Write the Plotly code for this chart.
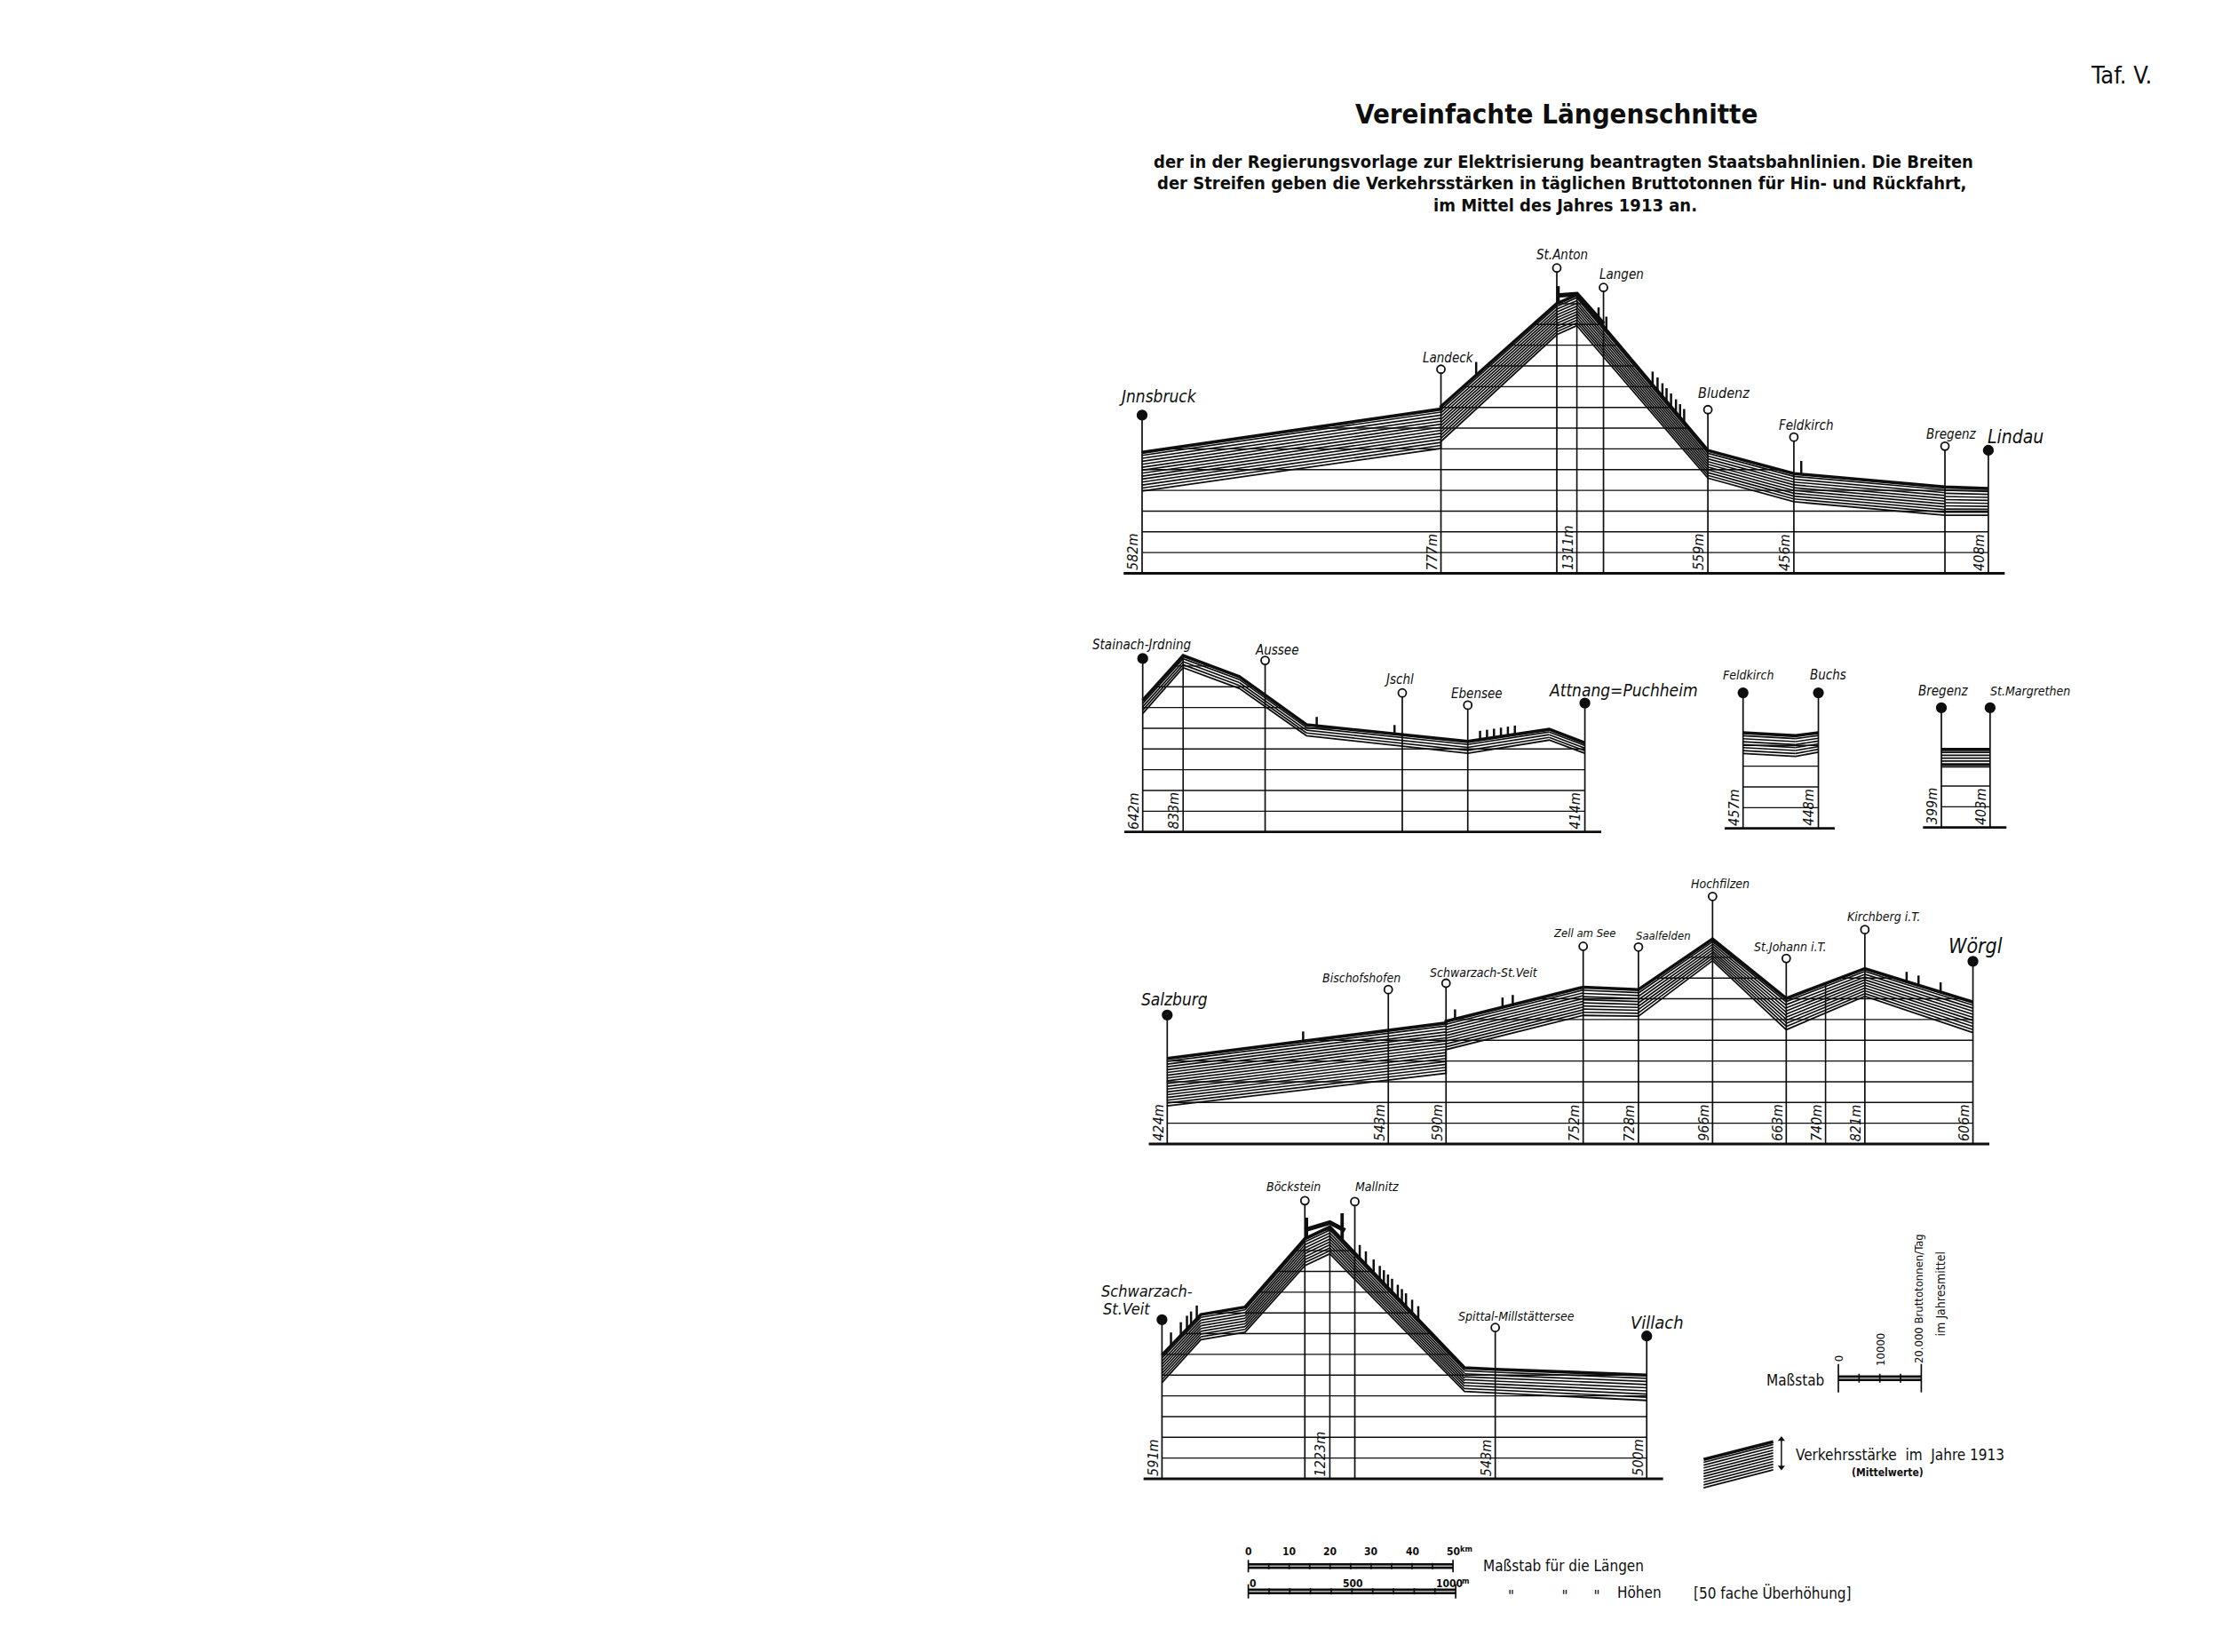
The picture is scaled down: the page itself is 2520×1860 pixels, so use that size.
import plotly.graph_objects as go

W, H = 2520, 1860
SX = 4.61      # page px per km (length scale of the drawing)
SY = 0.2335    # page px per m of height (50-fold exaggeration)
T2M = 0.02     # metres of band height per gross tonne per day

# ============================ DATA ============================
# 1) Innsbruck - Lindau (Arlbergbahn)
P1_KM = [0.0, 73.0, 73.0, 101.3, 106.2, 138.2, 159.2, 196.1, 206.7]
P1_BOTTOM = [547, 752, 786, 1301, 1344, 609, 495, 430, 430]
P1_TRAFFIC = [9300, 9500, 8400, 7500, 7400, 6650, 6800, 6800, 6450]
P1_ST_NAME = ["Jnnsbruck", "Landeck", "St.Anton", "Langen", "Bludenz", "Feldkirch", "Bregenz", "Lindau"]
P1_ST_KM = [0.0, 73.0, 101.3, 112.7, 138.2, 159.2, 196.1, 206.7]
P1_ST_END = [1, 0, 0, 0, 0, 0, 0, 1]
P1_EL_KM = [0.0, 73.0, 106.2, 138.2, 159.2, 206.7]
P1_EL_LAB = ["582m", "777m", "1311m", "559m", "456m", "408m"]
P1_MARKS = [81.6, 111.5, 113.4, 124.7, 125.9, 127.1, 128.1, 129.2, 130.4, 131.4, 132.4, 161.0]
P1_PORTALS = [101.6]
P1_TUNNEL = [101.3, 106.2, 112.7]

# 2) Stainach-Irdning - Attnang-Puchheim
P2_KM = [0.0, 9.87, 23.6, 40.0, 79.4, 99.3, 108.0]
P2_BOTTOM = [621, 842, 742, 514, 429, 493, 429]
P2_TRAFFIC = [3200, 2900, 2850, 2650, 2850, 2600, 2500]
P2_ST_NAME = ["Stainach-Jrdning", "Aussee", "Jschl", "Ebensee", "Attnang=Puchheim"]
P2_ST_KM = [0.0, 29.9, 63.4, 79.4, 108.0]
P2_ST_END = [1, 0, 0, 0, 1]
P2_EL_KM = [0.0, 9.87, 108.0]
P2_EL_LAB = ["642m", "833m", "414m"]
P2_MARKS = [42.5, 61.5, 82.4, 84.1, 85.8, 87.5, 89.2, 90.9]

# 3) Feldkirch - Buchs
P3_KM = [0.0, 12.8, 18.4]
P3_BOTTOM = [461, 447, 468]
P3_TRAFFIC = [5000, 5000, 4650]
P3_ST_NAME = ["Feldkirch", "Buchs"]
P3_ST_KM = [0.0, 18.4]
P3_ST_END = [1, 1]
P3_EL_KM = [0.0, 18.4]
P3_EL_LAB = ["457m", "448m"]

# 4) Bregenz - St. Margrethen
P4_KM = [0.0, 11.9]
P4_BOTTOM = [393, 393]
P4_TRAFFIC = [4150, 4150]
P4_ST_NAME = ["Bregenz", "St.Margrethen"]
P4_ST_KM = [0.0, 11.9]
P4_ST_END = [1, 1]
P4_EL_KM = [0.0, 11.9]
P4_EL_LAB = ["399m", "403m"]

# 5) Salzburg - Woergl (Giselabahn)
P5_KM = [0.0, 68.1, 68.1, 101.6, 115.1, 133.2, 151.2, 170.4, 196.8]
P5_BOTTOM = [334, 491, 605, 770, 766, 1034, 701, 862, 687]
P5_TRAFFIC = [11400, 12100, 6800, 6800, 6400, 5200, 7550, 6650, 7350]
P5_ST_NAME = ["Salzburg", "Bischofshofen", "Schwarzach-St.Veit", "Zell am See", "Saalfelden",
              "Hochfilzen", "St.Johann i.T.", "Kirchberg i.T.", "Wörgl"]
P5_ST_KM = [0.0, 54.0, 68.1, 101.6, 115.1, 133.2, 151.2, 170.4, 196.8]
P5_ST_END = [1, 0, 0, 0, 0, 0, 0, 0, 1]
P5_EL_KM = [0.0, 54.0, 68.1, 101.6, 115.1, 133.2, 151.2, 160.8, 170.4, 196.8]
P5_EL_LAB = ["424m", "543m", "590m", "752m", "728m", "966m", "663m", "740m", "821m", "606m"]
P5_MARKS = [33.2, 70.3, 81.9, 84.4, 180.6, 183.5, 188.9]

# 6) Schwarzach-St. Veit - Villach (Tauernbahn)
P6_KM = [0.0, 9.5, 20.3, 34.9, 41.0, 73.9, 81.4, 118.4]
P6_BOTTOM = [594, 801, 837, 1158, 1215, 551, 544, 508]
P6_TRAFFIC = [6600, 6050, 6050, 6450, 6450, 5700, 5700, 6100]
P6_ST_NAME = ["Schwarzach-|St.Veit", "Böckstein", "Mallnitz", "Spittal-Millstättersee", "Villach"]
P6_ST_KM = [0.0, 34.9, 47.1, 81.4, 118.4]
P6_ST_END = [1, 0, 0, 0, 1]
P6_EL_KM = [0.0, 41.0, 81.4, 118.4]
P6_EL_LAB = ["591m", "1223m", "543m", "500m"]
P6_MARKS = [2.2, 4.6, 6.1, 7.1, 8.5, 48.3, 49.8, 51.7, 53.2, 54.2, 55.2, 56.2, 57.6, 58.6, 59.6, 61.1, 62.6]
P6_PORTALS = [35.3, 44.0]
P6_TUNNEL = [34.9, 41.0, 44.7]

# Legend sample band and scales
LEG_KM = [132.3, 149.3]
LEG_BOTTOM = [87, 173]
LEG_TRAFFIC = [6800, 6800]
LEN_TICKS = [0, 5, 10, 15, 20, 25, 30, 35, 40, 45, 50]
LEN_LABELS = ["0", "10", "20", "30", "40", "50"]
LEN_LABEL_KM = [0, 10, 20, 30, 40, 50]
HGT_TICKS = [0, 100, 200, 300, 400, 500, 600, 700, 800, 900, 1000]
HGT_LABELS = ["0", "500", "1000"]
HGT_LABEL_M = [25, 507, 971]
TRF_TICKS = [0, 5000, 10000, 15000, 20000]

# ============================ STYLE / LAYOUT ============================
INK = "#0e0e0e"
ITAL = "DejaVu Sans Condensed, DejaVu Sans, sans-serif"
COND = "DejaVu Sans Condensed, DejaVu Sans, sans-serif"
SANS = "DejaVu Sans Condensed, DejaVu Sans, sans-serif"
NBSP = "\u00a0"

# page position of km 0 / base line, and the height of the base line
PANELS = [
    dict(x0=1286.0, base_px=645.5, base_m=150),
    dict(x0=1286.7, base_px=936.7, base_m=50),
    dict(x0=1962.7, base_px=932.7, base_m=100),
    dict(x0=2186.0, base_px=931.7, base_m=100),
    dict(x0=1314.3, base_px=1288.0, base_m=150),
    dict(x0=1308.4, base_px=1665.0, base_m=130),
]
# per station: (label dx px, label dy px, font size), marker height above band top (px)
STY = [
    dict(lab=[(18, -21, 19), (8, -13, 15), (6, -15, 15), (20, -15, 15), (18, -19, 16), (14, -13, 15), (7, -13, 15), (31, -15, 21)],
         off=[42, 42, 40, 44, 46, 41, 46, 43], mark_h=15),
    dict(lab=[(-1, -15, 15), (13, -12, 15), (-4, -15, 15), (10, -13, 15), (43, -15, 19)],
         off=[47, 39, 47, 41, 45], mark_h=10),
    dict(lab=[(6, -20, 14), (11, -20, 15)], off=[45, 45], mark_h=10),
    dict(lab=[(2, -19, 15), (45, -19, 14)], off=[47, 47], mark_h=10),
    dict(lab=[(8, -18, 19), (-30, -13, 14), (43, -12, 14), (2, -15, 13), (28, -13, 13), (9, -14, 14),
              (5, -13, 14), (21, -15, 14), (3, -17, 23)],
         off=[49, 46, 43, 46, 48, 48, 45, 44, 46], mark_h=11),
    dict(lab=[[(-17, -32, 18), (-40, -12, 18)], (-13, -16, 14), (25, -17, 14), (24, -13, 14), (12, -15, 20)],
         off=[40, 43, 58, 47, 44], mark_h=15),
]
TUNNEL_LIFT = {0: [9, 1, 3], 5: [10, 5, 14]}
PORTAL_H = {0: [19], 5: [23, 30]}

PROFILES = [
    dict(km=P1_KM, bot=P1_BOTTOM, trf=P1_TRAFFIC, st=P1_ST_NAME, stk=P1_ST_KM, end=P1_ST_END,
         elk=P1_EL_KM, ell=P1_EL_LAB, marks=P1_MARKS, portals=P1_PORTALS, tunnel=P1_TUNNEL),
    dict(km=P2_KM, bot=P2_BOTTOM, trf=P2_TRAFFIC, st=P2_ST_NAME, stk=P2_ST_KM, end=P2_ST_END,
         elk=P2_EL_KM, ell=P2_EL_LAB, marks=P2_MARKS, portals=[], tunnel=None),
    dict(km=P3_KM, bot=P3_BOTTOM, trf=P3_TRAFFIC, st=P3_ST_NAME, stk=P3_ST_KM, end=P3_ST_END,
         elk=P3_EL_KM, ell=P3_EL_LAB, marks=[], portals=[], tunnel=None),
    dict(km=P4_KM, bot=P4_BOTTOM, trf=P4_TRAFFIC, st=P4_ST_NAME, stk=P4_ST_KM, end=P4_ST_END,
         elk=P4_EL_KM, ell=P4_EL_LAB, marks=[], portals=[], tunnel=None),
    dict(km=P5_KM, bot=P5_BOTTOM, trf=P5_TRAFFIC, st=P5_ST_NAME, stk=P5_ST_KM, end=P5_ST_END,
         elk=P5_EL_KM, ell=P5_EL_LAB, marks=P5_MARKS, portals=[], tunnel=None),
    dict(km=P6_KM, bot=P6_BOTTOM, trf=P6_TRAFFIC, st=P6_ST_NAME, stk=P6_ST_KM, end=P6_ST_END,
         elk=P6_EL_KM, ell=P6_EL_LAB, marks=P6_MARKS, portals=P6_PORTALS, tunnel=P6_TUNNEL),
]

fig = go.Figure()
annotations = []


def axn(i):
    return ("x" if i == 1 else f"x{i}"), ("y" if i == 1 else f"y{i}")


def add_lines(xs, ys, ax, width, dash=None, color=INK):
    fig.add_trace(go.Scatter(x=xs, y=ys, xaxis=ax[0], yaxis=ax[1], mode="lines",
                             line=dict(color=color, width=width, dash=dash),
                             hoverinfo="skip", showlegend=False))


def top_at(km, bot, trf, k):
    best = None
    for i in range(len(km) - 1):
        k0, k1 = km[i], km[i + 1]
        if k1 <= k0:
            continue
        if k0 - 1e-9 <= k <= k1 + 1e-9:
            f = (k - k0) / (k1 - k0)
            t = (bot[i] + trf[i] * T2M) * (1 - f) + (bot[i + 1] + trf[i + 1] * T2M) * f
            best = t if best is None else max(best, t)
    return best


def intervals_above(km, tops, e):
    out = []
    for i in range(len(km) - 1):
        k0, k1 = km[i], km[i + 1]
        if k1 <= k0:
            continue
        y0, y1 = tops[i], tops[i + 1]
        if y0 >= e and y1 >= e:
            out.append([k0, k1])
        elif y0 >= e > y1:
            out.append([k0, k0 + (y0 - e) / (y0 - y1) * (k1 - k0)])
        elif y1 >= e > y0:
            out.append([k0 + (e - y0) / (y1 - y0) * (k1 - k0), k1])
    out.sort()
    merged = []
    for a, b in out:
        if merged and a <= merged[-1][1] + 1e-6:
            merged[-1][1] = max(merged[-1][1], b)
        else:
            merged.append([a, b])
    return merged


def draw_band(km, bot, trf, ax):
    hx, hy = [], []
    for i in range(len(km) - 1):
        if km[i + 1] <= km[i]:
            continue
        t0, t1 = trf[i] * T2M, trf[i + 1] * T2M
        n = max(2, round((t0 + t1) / 2 * SY / 3.3))
        for j in range(1, n):
            f = j / n
            hx += [km[i], km[i + 1], None]
            hy += [bot[i] + f * t0, bot[i + 1] + f * t1, None]
    add_lines(hx, hy, ax, 1.65)
    add_lines(list(km), list(bot), ax, 1.8)
    add_lines(list(km), [b + t * T2M for b, t in zip(bot, trf)], ax, 3.6)


for pi, (P, pos, sty) in enumerate(zip(PROFILES, PANELS, STY)):
    ax = axn(pi + 1)
    km, bot, trf = P["km"], P["bot"], P["trf"]
    base = pos["base_m"]
    tops = [b + t * T2M for b, t in zip(bot, trf)]

    # grid of 100 m height lines, running up to the top of the band
    gx, gy = [], []
    e = base + 100
    while e < max(tops):
        for a, b in intervals_above(km, tops, e):
            gx += [a, b, None]
            gy += [e, e, None]
        e += 100
    add_lines(gx, gy, ax, 1.4)
    # base line
    add_lines([km[0] - 4.5, km[-1] + 4.0], [base, base], ax, 2.8)

    # station poles
    sx_, sy_ = [], []
    mk_y = []
    for k, off in zip(P["stk"], sty["off"]):
        y_m = top_at(km, bot, trf, k) + off / SY
        mk_y.append(y_m)
        sx_ += [k, k, None]
        sy_ += [base, y_m, None]
    add_lines(sx_, sy_, ax, 1.7)
    # height poles without a station
    px_, py_ = [], []
    for k in P["elk"]:
        if k not in P["stk"]:
            px_ += [k, k, None]
            py_ += [base, top_at(km, bot, trf, k), None]
    if px_:
        add_lines(px_, py_, ax, 1.6)

    draw_band(km, bot, trf, ax)

    # tunnel marks
    mx, my = [], []
    for k in P["marks"]:
        t = top_at(km, bot, trf, k)
        mx += [k, k, None]
        my += [t, t + sty["mark_h"] / SY, None]
    if mx:
        add_lines(mx, my, ax, 2.5)
    if P["portals"]:
        qx, qy = [], []
        for k, h in zip(P["portals"], PORTAL_H[pi]):
            t = top_at(km, bot, trf, k)
            qx += [k, k, None]
            qy += [t, t + h / SY, None]
        add_lines(qx, qy, ax, 3.8)
    if P["tunnel"]:
        lifts = TUNNEL_LIFT[pi]
        add_lines(P["tunnel"], [top_at(km, bot, trf, k) + l / SY for k, l in zip(P["tunnel"], lifts)], ax, 5.0)

    # station markers
    for filled in (1, 0):
        xs = [k for k, en in zip(P["stk"], P["end"]) if en == filled]
        ys = [y for y, en in zip(mk_y, P["end"]) if en == filled]
        if not xs:
            continue
        fig.add_trace(go.Scatter(
            x=xs, y=ys, xaxis=ax[0], yaxis=ax[1], mode="markers", hoverinfo="skip", showlegend=False,
            marker=dict(symbol="circle", size=10.5 if filled else 9,
                        color=INK if filled else "white", line=dict(color=INK, width=1.8))))

    # station names
    for name, k, y_m, lab in zip(P["st"], P["stk"], mk_y, sty["lab"]):
        parts = name.split("|")
        labs = lab if isinstance(lab, list) else [lab]
        for text, (dx, dy, fs) in zip(parts, labs):
            annotations.append(dict(
                x=k, y=y_m, xref=ax[0], yref=ax[1], text=text, showarrow=False, borderpad=0,
                xanchor="center", yanchor="middle", xshift=dx, yshift=-dy,
                font=dict(family=ITAL, size=fs, color=INK, style="italic")))
    # heights, written up the poles
    for k, lab in zip(P["elk"], P["ell"]):
        annotations.append(dict(
            x=k, y=base, xref=ax[0], yref=ax[1], text=lab, showarrow=False, textangle=-90,
            xanchor="right", yanchor="bottom", xshift=0, yshift=2, borderpad=0,
            font=dict(family=ITAL, size=16, color=INK, style="italic")))

# ---------- legend sample band (drawn in the Tauern panel's axes) ----------
axL = axn(6)
draw_band(LEG_KM, LEG_BOTTOM, LEG_TRAFFIC, axL)
ARROW_KM = LEG_KM[1] + 2.0
arr_lo = LEG_BOTTOM[1] + 5
arr_hi = LEG_BOTTOM[1] + LEG_TRAFFIC[1] * T2M + 20
add_lines([ARROW_KM, ARROW_KM], [arr_lo + 12, arr_hi - 12], axL, 1.5)
fig.add_trace(go.Scatter(x=[ARROW_KM, ARROW_KM], y=[arr_hi - 8, arr_lo + 8], xaxis=axL[0], yaxis=axL[1],
                         mode="markers", hoverinfo="skip", showlegend=False,
                         marker=dict(symbol=["triangle-up", "triangle-down"], size=7, color=INK)))

# ---------- scale bars ----------
axK = ("x7", "y7")   # km
axM = ("x8", "y7")   # metres of height
axT = ("x9", "y7")   # tonnes per day
Y_LEN, Y_HGT, Y_TRF = 1763.3, 1791.7, 1551.7


def scale_bar(ticks, y, ax, long_h, short_h):
    add_lines([ticks[0], ticks[-1]], [y, y], ax, 6.5)
    add_lines([ticks[0], ticks[-1]], [y, y], ax, 1.6, color="#b8b8b8")
    tx, ty = [], []
    for i, t in enumerate(ticks):
        h = long_h if i in (0, len(ticks) - 1) else short_h
        tx += [t, t, None]
        ty += [y - h, y + h, None]
    add_lines(tx, ty, ax, 1.7)


scale_bar(LEN_TICKS, Y_LEN, axK, 7, 3.5)
scale_bar(HGT_TICKS, Y_HGT, axM, 8, 3.5)
scale_bar(TRF_TICKS, Y_TRF, axT, 16, 5)

SMALLB = dict(family=COND, size=12, color=INK, weight="bold")
TINYB = dict(family=COND, size=9, color=INK, weight="bold")
for lab, k in zip(LEN_LABELS, LEN_LABEL_KM):
    annotations.append(dict(x=k, y=Y_LEN - 8, xref=axK[0], yref=axK[1], text=lab, showarrow=False,
                            xanchor="center", yanchor="bottom", borderpad=0, font=SMALLB))
annotations.append(dict(x=50, y=Y_LEN - 13, xref=axK[0], yref=axK[1], text="km", showarrow=False,
                        xanchor="left", yanchor="bottom", xshift=7, borderpad=0, font=TINYB))
for lab, m in zip(HGT_LABELS, HGT_LABEL_M):
    annotations.append(dict(x=m, y=Y_HGT - 1, xref=axM[0], yref=axM[1], text=lab, showarrow=False,
                            xanchor="center", yanchor="bottom", borderpad=0, font=SMALLB))
annotations.append(dict(x=1000, y=Y_HGT - 6, xref=axM[0], yref=axM[1], text="m", showarrow=False,
                        xanchor="left", yanchor="bottom", xshift=6, borderpad=0, font=TINYB))
for lab, t, dxs, ybot in (("0", 0, 0, Y_TRF - 17), ("10000", 10000, 0, Y_TRF - 13),
                          ("20.000 Bruttotonnen/Tag", 20000, -3, Y_TRF - 16)):
    annotations.append(dict(x=t, y=ybot, xref=axT[0], yref=axT[1], text=lab, showarrow=False, textangle=-90,
                            xanchor="center", yanchor="bottom", xshift=dxs, borderpad=0,
                            font=dict(family=SANS, size=13, color=INK)))
annotations.append(dict(x=24600, y=1505, xref=axT[0], yref=axT[1], text="im Jahresmittel", showarrow=False,
                        textangle=-90, xanchor="center", yanchor="bottom", borderpad=0,
                        font=dict(family=SANS, size=14, color=INK)))


def ptext(text, x, y, size, family=SANS, anchor="center", weight="normal"):
    annotations.append(dict(x=x / W, y=1 - y / H, xref="paper", yref="paper", text=text, showarrow=False,
                            xanchor=anchor, yanchor="middle", borderpad=0,
                            font=dict(family=family, size=size, color=INK, weight=weight)))


ptext("Taf. V.", 2388, 84, 27, COND)
ptext("Vereinfachte Längenschnitte", 1752, 128, 31, COND, weight="bold")
ptext("der in der Regierungsvorlage zur Elektrisierung beantragten Staatsbahnlinien. Die Breiten",
      1760, 182, 20, COND, weight="bold")
ptext("der Streifen geben die Verkehrsstärken in täglichen Bruttotonnen für Hin- und Rückfahrt,",
      1758, 206, 20, COND, weight="bold")
ptext("im Mittel des Jahres 1913 an.", 1762, 231, 20, COND, weight="bold")
ptext("Maßstab", 2021, 1554, 17)
ptext("Verkehrsstärke" + NBSP * 2 + "im" + NBSP * 2 + "Jahre 1913", 2021, 1638, 17, anchor="left")
ptext("(Mittelwerte)", 2125, 1658, 12, weight="bold")
ptext("Maßstab für die Längen", 1669, 1763, 17, anchor="left")
ptext('"' + NBSP * 11 + '"' + NBSP * 6 + '"', 1697, 1797, 17, anchor="left")
ptext("Höhen", 1820, 1793, 17, anchor="left")
ptext("[50 fache Überhöhung]", 1906, 1793, 17, anchor="left")

# ---------- axes: every panel spans the whole page ----------
layout_axes = {}
for i, pos in enumerate(PANELS, start=1):
    xr = [(0 - pos["x0"]) / SX, (W - pos["x0"]) / SX]
    yr = [pos["base_m"] - (H - pos["base_px"]) / SY, pos["base_m"] + pos["base_px"] / SY]
    xk = "xaxis" if i == 1 else f"xaxis{i}"
    yk = "yaxis" if i == 1 else f"yaxis{i}"
    layout_axes[xk] = dict(range=xr, domain=[0, 1], visible=False, fixedrange=True, anchor=axn(i)[1])
    layout_axes[yk] = dict(range=yr, domain=[0, 1], visible=False, fixedrange=True, anchor=axn(i)[0])
X0_SCALE, X0_TRF = 1405.6, 2070.0
layout_axes["xaxis7"] = dict(range=[-X0_SCALE / SX, (W - X0_SCALE) / SX], domain=[0, 1], visible=False,
                             fixedrange=True, anchor="y7")
layout_axes["xaxis8"] = dict(range=[-X0_SCALE / SY, (W - X0_SCALE) / SY], domain=[0, 1], visible=False,
                             fixedrange=True, anchor="y7")
layout_axes["xaxis9"] = dict(range=[-X0_TRF / (SY * T2M), (W - X0_TRF) / (SY * T2M)], domain=[0, 1],
                             visible=False, fixedrange=True, anchor="y7")
layout_axes["yaxis7"] = dict(range=[H, 0], domain=[0, 1], visible=False, fixedrange=True, anchor="x7")

fig.update_layout(
    width=W, height=H, autosize=False, margin=dict(l=0, r=0, t=0, b=0, pad=0),
    paper_bgcolor="white", plot_bgcolor="rgba(0,0,0,0)", showlegend=False,
    annotations=annotations, **layout_axes)

fig.write_html("out.html", config={"displayModeBar": False, "staticPlot": True},
               post_script="document.body.style.margin='0px';document.body.style.overflow='hidden';")
